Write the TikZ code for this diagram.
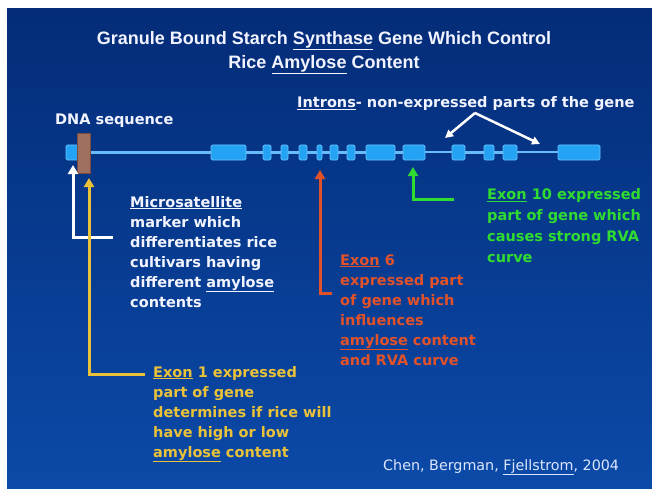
\documentclass[tikz,border=0pt]{standalone}
\usepackage{fontspec}
\setmainfont{DejaVu Sans}
\newfontfamily\titlefont{Liberation Sans}
\usetikzlibrary{arrows.meta}
\definecolor{bgtop}{HTML}{042C78}
\definecolor{bgbot}{HTML}{0B4AA8}
\definecolor{exonfill}{HTML}{24A2F4}
\definecolor{exonedge}{HTML}{66C2FF}
\definecolor{linecol}{HTML}{68BCFA}
\definecolor{markfill}{HTML}{A0705E}
\definecolor{markedge}{HTML}{7A4A40}
\definecolor{txtwhite}{HTML}{F2F4FF}
\definecolor{txtred}{HTML}{E2522A}
\definecolor{txtgreen}{HTML}{30DC30}
\definecolor{txtyellow}{HTML}{EAC23A}
\definecolor{citecol}{HTML}{DCE6FF}
\tikzset{
  exon/.style={draw=exonedge, line width=0.8pt, fill=exonfill, rounded corners=1.5pt, minimum height=15pt, inner sep=0pt},
  intron/.style={draw=linecol, line width=3.5pt},
  thinintron/.style={draw=linecol, line width=2pt},
  body/.style={font=\bfseries\fontsize{14.5}{20}\selectfont, align=left, anchor=base west, inner sep=0pt},
  pointer/.style={line width=3pt, -{Triangle[width=10pt,length=9pt]}},
}
\begin{document}
\begin{tikzpicture}[x=1pt, y=-1pt]
\useasboundingbox (0,0) rectangle (652,489);
\fill[white] (0,0) rectangle (652,489);
\shade[top color=bgtop, bottom color=bgbot] (7,9) rectangle (652,489);

% title (anchored at the baseline of its last line)
\node[font=\titlefont\bfseries\fontsize{18}{24}\selectfont, text=txtwhite, align=center, anchor=base, inner sep=0pt] (title) at (324,68.5)
  {Granule Bound Starch \underline{Synthase} Gene Which Control\\Rice \underline{Amylose} Content};

% labels
\node[body, text=txtwhite] (dna) at (55,125) {DNA sequence};
\node[body, text=txtwhite] (introns) at (297,108) {\underline{Introns}- non-expressed parts of the gene};

% gene structure
\node[exon, minimum width=24pt] (e1) at (78,152.5) {};
\node[exon, minimum width=35pt] (e2) at (228.5,152.5) {};
\node[exon, minimum width=8pt] (e3) at (267,152.5) {};
\node[exon, minimum width=7pt] (e4) at (284.5,152.5) {};
\node[exon, minimum width=8pt] (e5) at (303,152.5) {};
\node[exon, minimum width=5pt] (e6) at (319.5,152.5) {};
\node[exon, minimum width=8pt] (e7) at (334,152.5) {};
\node[exon, minimum width=8pt] (e8) at (351,152.5) {};
\node[exon, minimum width=29pt] (e9) at (380.5,152.5) {};
\node[exon, minimum width=22pt] (e10) at (414,152.5) {};
\node[exon, minimum width=13pt] (e11) at (458.5,152.5) {};
\node[exon, minimum width=10pt] (e12) at (489,152.5) {};
\node[exon, minimum width=14pt] (e13) at (510,152.5) {};
\node[exon, minimum width=42pt] (e14) at (579,152.5) {};

\draw[intron] (e1.east) -- (e2.west);
\draw[intron] (e2.east) -- (e3.west);
\draw[intron] (e3.east) -- (e4.west);
\draw[intron] (e4.east) -- (e5.west);
\draw[intron] (e5.east) -- (e6.west);
\draw[intron] (e6.east) -- (e7.west);
\draw[intron] (e7.east) -- (e8.west);
\draw[intron] (e8.east) -- (e9.west);
\draw[intron] (e9.east) -- (e10.west);
\draw[thinintron] (e10.east) -- (e11.west);
\draw[intron] (e11.east) -- (e12.west);
\draw[intron] (e12.east) -- (e13.west);
\draw[thinintron] (e13.east) -- (e14.west);

\node[draw=markedge, line width=0.8pt, fill=markfill, minimum width=13pt, minimum height=40pt, inner sep=0pt] (marker) at (83.5,153) {};

% annotation texts (each anchored at the baseline of its last line)
\node[body, text=txtwhite] (micro) at (130,307)
  {\underline{Microsatellite}\\marker which\\differentiates rice\\cultivars having\\different \underline{amylose}\\contents};
\node[body, text=txtred] (ex6) at (340,365)
  {\underline{Exon} 6\\expressed part\\of gene which\\influences\\\underline{amylose} content\\and RVA curve};
\node[body, text=txtgreen, font=\bfseries\fontsize{14.5}{20.7}\selectfont] (ex10) at (487,262)
  {\underline{Exon} 10 expressed\\part of gene which\\causes strong RVA\\curve};
\node[body, text=txtyellow] (ex1) at (153,457)
  {\underline{Exon} 1 expressed\\part of gene\\determines if rice will\\have high or low\\\underline{amylose} content};
\node[anchor=base west, inner sep=0pt, text=citecol, font=\fontsize{14.3}{18}\selectfont] (cite) at (383,470)
  {Chen, Bergman, \underline{Fjellstrom}, 2004};

% pointer corners and tips
\coordinate (wS) at (113,237);
\coordinate (wT) at (73,165);
\coordinate (yS) at (145,374);
\coordinate (yT) at (89,178);
\coordinate (rS) at (332,293);
\coordinate (rT) at (320,170);
\coordinate (gS) at (454,199);
\coordinate (gT) at (413,167);
\coordinate (iA) at (475,113);
\coordinate (iL) at (445,138);
\coordinate (iR) at (540,144);

\draw[pointer, white] (wS) -| (wT);
\draw[pointer, txtyellow] (yS) -| (yT);
\draw[pointer, txtred] (rS) -| (rT);
\draw[pointer, txtgreen] (gS) -| (gT);
\draw[white, line width=2.5pt, -{Triangle[width=8pt,length=8pt]}] (iA) -- (iL);
\draw[white, line width=2.5pt, -{Triangle[width=8pt,length=8pt]}] (iA) -- (iR);
\end{tikzpicture}
\end{document}
